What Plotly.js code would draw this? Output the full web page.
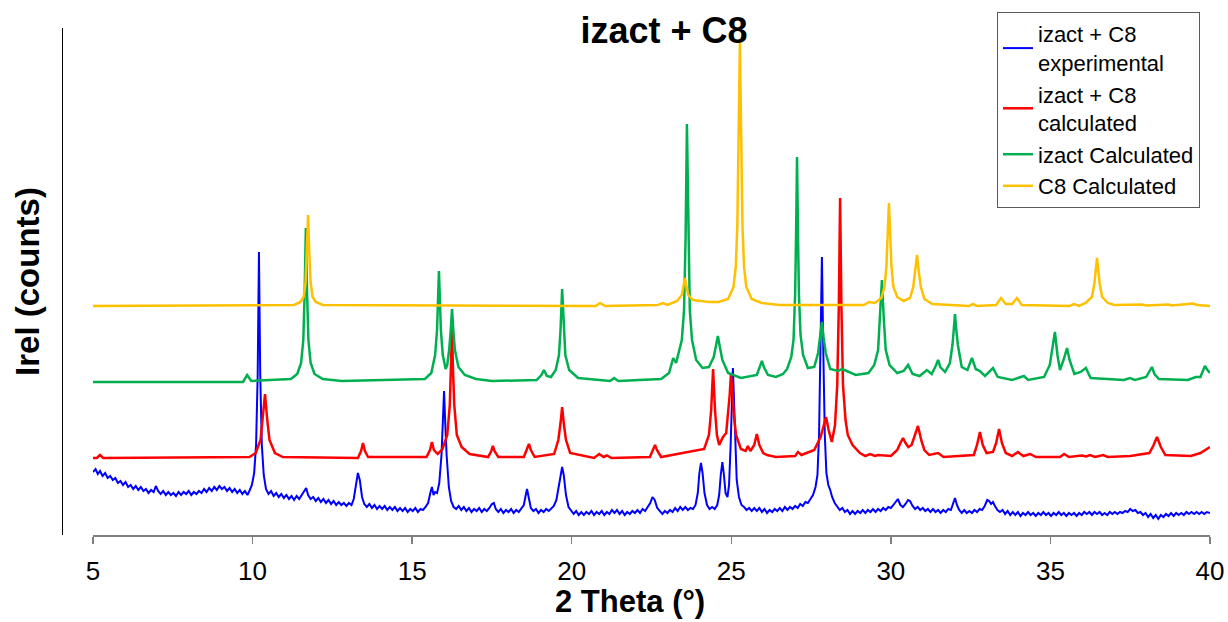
<!DOCTYPE html>
<html>
<head>
<meta charset="utf-8">
<script src="https://cdn.plot.ly/plotly-3.0.1.min.js"></script>
<style>html,body{margin:0;padding:0;background:#fff;}#chart{width:1228px;height:622px;}</style>
</head>
<body>
<div id="chart"></div>
<script>
// ---- data: [2 Theta (deg), intensity (offset counts)] ----
const seriesNames = ["izact + C8<br>experimental", "izact + C8<br>calculated", "izact Calculated", "C8 Calculated"];
const seriesColors = ["#0000FF", "#FF0000", "#00B050", "#FFC000"];

const expPoints = [[5.0,63],[5.08,66],[5.15,61],[5.22,64],[5.3,59],[5.38,62],[5.46,57],[5.54,59],[5.62,55],[5.7,57],[5.78,52],[5.86,54],[5.94,50],[6.02,53],[6.1,48],[6.18,50],[6.26,46],[6.34,49],[6.42,45],[6.5,48],[6.58,44],[6.66,46],[6.74,42],[6.82,45],[6.9,43],[6.97,49],[7.04,44],[7.12,41],[7.2,44],[7.28,40],[7.36,43],[7.44,40],[7.52,42],[7.6,39],[7.68,43],[7.76,40],[7.84,43],[7.92,41],[8.0,44],[8.08,40],[8.16,43],[8.24,41],[8.32,44],[8.4,42],[8.48,46],[8.56,43],[8.64,47],[8.72,44],[8.8,48],[8.88,45],[8.96,49],[9.04,46],[9.12,48],[9.2,44],[9.28,47],[9.36,43],[9.44,46],[9.52,42],[9.6,45],[9.68,41],[9.76,44],[9.84,40],[9.9,44],[9.98,50],[10.05,62],[10.11,90],[10.16,160],[10.2,283],[10.24,160],[10.29,90],[10.35,60],[10.42,46],[10.5,41],[10.58,44],[10.66,39],[10.74,42],[10.82,38],[10.9,41],[10.98,37],[11.06,40],[11.14,36],[11.22,39],[11.3,35],[11.38,39],[11.46,36],[11.54,40],[11.62,44],[11.68,47],[11.74,40],[11.82,36],[11.9,38],[11.98,34],[12.06,37],[12.14,33],[12.22,36],[12.3,32],[12.38,35],[12.46,31],[12.54,34],[12.62,30],[12.7,33],[12.78,30],[12.86,32],[12.94,29],[13.02,32],[13.1,30],[13.17,36],[13.24,50],[13.3,62],[13.36,55],[13.43,38],[13.5,31],[13.58,28],[13.66,31],[13.74,27],[13.82,30],[13.9,26],[13.98,29],[14.06,26],[14.14,29],[14.22,25],[14.3,28],[14.38,25],[14.46,28],[14.54,24],[14.62,27],[14.7,24],[14.78,27],[14.86,23],[14.94,26],[15.02,24],[15.1,27],[15.18,23],[15.26,26],[15.34,25],[15.42,28],[15.5,32],[15.57,42],[15.62,48],[15.67,40],[15.72,43],[15.78,42],[15.85,52],[15.92,80],[15.96,110],[16.0,144],[16.04,110],[16.08,80],[16.15,48],[16.22,34],[16.3,28],[16.38,26],[16.46,29],[16.54,25],[16.62,28],[16.7,24],[16.78,27],[16.86,23],[16.94,26],[17.02,24],[17.1,27],[17.18,23],[17.26,26],[17.34,24],[17.42,27],[17.5,31],[17.56,32],[17.62,26],[17.7,23],[17.78,26],[17.86,22],[17.94,25],[18.02,23],[18.1,26],[18.18,22],[18.26,25],[18.34,23],[18.42,27],[18.5,30],[18.56,40],[18.6,46],[18.65,38],[18.72,27],[18.8,24],[18.88,26],[18.96,22],[19.04,25],[19.12,23],[19.2,26],[19.28,24],[19.36,27],[19.44,29],[19.52,35],[19.6,50],[19.66,62],[19.7,68],[19.75,60],[19.82,40],[19.9,28],[19.98,24],[20.06,21],[20.14,24],[20.22,20],[20.3,23],[20.38,20],[20.46,23],[20.54,21],[20.62,24],[20.7,20],[20.78,23],[20.86,21],[20.94,24],[21.02,20],[21.1,23],[21.18,21],[21.26,25],[21.34,22],[21.42,25],[21.5,21],[21.58,24],[21.66,20],[21.74,23],[21.82,21],[21.9,24],[21.98,22],[22.06,25],[22.14,22],[22.22,26],[22.3,24],[22.38,28],[22.46,32],[22.53,38],[22.6,35],[22.68,27],[22.76,24],[22.84,21],[22.92,24],[23.0,22],[23.08,25],[23.16,23],[23.24,27],[23.32,24],[23.4,28],[23.48,25],[23.56,28],[23.64,25],[23.72,27],[23.8,26],[23.88,30],[23.95,42],[24.0,62],[24.05,72],[24.1,62],[24.16,42],[24.24,30],[24.32,26],[24.4,28],[24.48,26],[24.56,30],[24.62,40],[24.67,60],[24.72,73],[24.77,60],[24.82,42],[24.88,38],[24.93,50],[24.98,90],[25.02,140],[25.05,167],[25.08,140],[25.12,90],[25.17,55],[25.24,38],[25.32,30],[25.4,28],[25.48,25],[25.56,27],[25.64,24],[25.72,27],[25.8,24],[25.88,27],[25.96,23],[26.04,26],[26.12,22],[26.2,25],[26.28,23],[26.36,26],[26.44,24],[26.52,27],[26.6,24],[26.68,28],[26.76,25],[26.84,28],[26.92,26],[27.0,29],[27.08,27],[27.16,31],[27.24,29],[27.32,33],[27.4,32],[27.48,36],[27.56,40],[27.64,48],[27.7,60],[27.75,100],[27.8,190],[27.84,278],[27.88,190],[27.93,100],[27.98,62],[28.04,50],[28.1,45],[28.16,38],[28.24,32],[28.32,28],[28.4,25],[28.48,27],[28.56,23],[28.64,25],[28.72,21],[28.8,24],[28.88,21],[28.96,24],[29.04,22],[29.12,25],[29.2,22],[29.28,25],[29.36,23],[29.44,26],[29.52,23],[29.6,26],[29.68,24],[29.76,27],[29.84,25],[29.92,28],[30.0,27],[30.08,30],[30.16,33],[30.22,36],[30.3,30],[30.38,28],[30.46,31],[30.54,35],[30.6,34],[30.68,29],[30.76,26],[30.84,28],[30.92,25],[31.0,27],[31.08,24],[31.16,26],[31.24,23],[31.32,26],[31.4,23],[31.48,25],[31.56,22],[31.64,25],[31.72,23],[31.8,26],[31.88,25],[31.95,31],[32.01,37],[32.07,30],[32.14,25],[32.22,22],[32.3,25],[32.38,22],[32.46,24],[32.54,22],[32.62,25],[32.7,23],[32.78,26],[32.86,25],[32.94,29],[33.02,35],[33.08,34],[33.14,31],[33.2,33],[33.26,29],[33.34,25],[33.42,23],[33.5,25],[33.58,21],[33.66,24],[33.74,20],[33.82,23],[33.9,20],[33.98,23],[34.06,19],[34.14,22],[34.22,20],[34.3,23],[34.38,20],[34.46,22],[34.54,19],[34.62,22],[34.7,20],[34.78,23],[34.86,20],[34.94,22],[35.02,19],[35.1,22],[35.18,20],[35.26,23],[35.34,20],[35.42,22],[35.5,19],[35.58,22],[35.66,20],[35.74,22],[35.82,19],[35.9,22],[35.98,20],[36.06,23],[36.14,21],[36.22,23],[36.3,20],[36.38,23],[36.46,21],[36.54,23],[36.62,20],[36.7,22],[36.78,20],[36.86,23],[36.94,21],[37.02,23],[37.1,21],[37.18,23],[37.26,22],[37.34,24],[37.42,23],[37.5,26],[37.58,24],[37.66,25],[37.74,22],[37.82,23],[37.9,20],[37.98,22],[38.06,18],[38.14,21],[38.22,17],[38.3,20],[38.38,16],[38.46,20],[38.54,18],[38.62,21],[38.7,19],[38.78,22],[38.86,19],[38.94,22],[39.02,20],[39.1,22],[39.18,20],[39.26,23],[39.34,21],[39.42,23],[39.5,21],[39.58,23],[39.66,21],[39.74,23],[39.82,21],[39.9,23],[40.0,22]];

const mixCalcPoints = [[5.0,77],[5.12,77],[5.22,80],[5.32,77],[9.9,78],[10.1,82],[10.25,95],[10.32,115],[10.39,141],[10.46,115],[10.53,95],[10.7,82],[10.95,78],[13.3,77],[13.4,84],[13.46,92],[13.52,84],[13.62,78],[15.45,78],[15.56,85],[15.62,93],[15.68,85],[15.8,81],[15.95,86],[16.1,100],[16.18,130],[16.22,165],[16.25,207],[16.28,165],[16.32,130],[16.4,100],[16.55,88],[16.8,81],[17.38,78],[17.48,84],[17.53,89],[17.58,84],[17.7,78],[18.5,78],[18.6,85],[18.66,91],[18.72,85],[18.84,78],[19.45,81],[19.58,95],[19.65,112],[19.7,128],[19.75,112],[19.82,95],[19.95,82],[20.7,77],[20.86,81],[21.0,78],[21.1,79.5],[21.25,77],[22.45,78],[22.55,85],[22.61,90],[22.67,85],[22.8,78],[24.15,86],[24.3,100],[24.37,125],[24.43,166],[24.49,125],[24.55,100],[24.62,90],[24.74,98],[24.84,102],[24.9,120],[24.95,140],[24.99,162],[25.03,140],[25.08,120],[25.15,100],[25.3,86],[25.45,84],[25.52,89],[25.6,84],[25.72,90],[25.8,101],[25.88,90],[26.0,82],[26.12,80],[26.4,78],[27.0,79],[27.09,83],[27.2,80],[27.6,85],[27.8,98],[27.9,110],[27.97,118],[28.05,105],[28.15,93],[28.25,110],[28.32,150],[28.37,230],[28.41,337],[28.45,230],[28.5,150],[28.58,115],[28.65,100],[28.8,90],[29.03,82],[29.2,79],[29.35,81],[29.5,79],[29.6,80],[30.0,79],[30.2,85],[30.3,92],[30.38,97],[30.46,92],[30.55,88],[30.65,90],[30.75,100],[30.85,109],[30.95,95],[31.05,85],[31.2,80],[31.48,82],[31.65,78],[32.6,80],[32.7,90],[32.79,103],[32.88,90],[33.0,82],[33.2,83],[33.3,92],[33.39,106],[33.48,92],[33.6,82],[33.8,79],[33.98,83],[34.15,79],[34.36,81],[34.55,78],[35.3,78],[35.43,81],[35.58,78],[35.99,79.5],[36.12,78.5],[36.24,80],[36.4,78],[36.65,80],[36.8,78],[37.5,79],[38.1,82],[38.22,89],[38.34,98],[38.46,88],[38.6,80],[39.4,79],[39.7,82],[39.9,86],[40.0,88]];

const izactPoints = [[5.0,153],[9.7,153],[9.83,160],[9.96,154],[11.2,156],[11.4,161],[11.52,172],[11.59,195],[11.63,240],[11.67,307],[11.71,240],[11.75,195],[11.82,172],[11.94,161],[12.2,156],[12.8,154],[15.4,156],[15.6,162],[15.72,180],[15.78,205],[15.84,264],[15.9,205],[15.96,180],[16.05,166],[16.1,170],[16.16,185],[16.21,205],[16.25,226],[16.29,205],[16.34,185],[16.45,168],[16.65,160],[17.0,156],[17.5,154],[18.9,155],[19.05,160],[19.13,165],[19.22,159],[19.35,158],[19.5,165],[19.6,180],[19.65,205],[19.7,246],[19.75,205],[19.8,180],[19.92,165],[20.2,157],[21.2,154],[21.33,157],[21.46,154],[22.8,156],[23.05,162],[23.18,177],[23.27,172],[23.36,183],[23.45,195],[23.52,225],[23.57,300],[23.61,411],[23.65,300],[23.7,225],[23.77,195],[23.9,175],[24.1,167],[24.3,168],[24.45,178],[24.53,190],[24.58,199],[24.63,190],[24.72,175],[24.9,162],[25.3,157],[25.8,160],[25.9,168],[25.96,174],[26.02,168],[26.15,160],[26.4,158],[26.62,161],[26.75,166],[26.88,178],[26.95,195],[27.0,240],[27.03,300],[27.06,378],[27.09,300],[27.12,240],[27.17,200],[27.25,180],[27.4,167],[27.6,168],[27.72,182],[27.79,198],[27.84,213],[27.89,198],[27.96,182],[28.1,166],[28.35,164],[28.47,166],[28.6,164],[28.9,160],[29.3,162],[29.48,170],[29.6,185],[29.66,215],[29.72,255],[29.78,215],[29.84,185],[29.96,170],[30.2,162],[30.4,164],[30.54,170],[30.68,161],[30.9,159],[31.13,165],[31.28,161],[31.42,170],[31.48,175],[31.55,168],[31.7,163],[31.85,172],[31.93,190],[31.97,205],[32.01,221],[32.05,205],[32.1,190],[32.22,168],[32.4,165],[32.54,177],[32.66,166],[32.79,164],[32.95,159],[33.2,167],[33.35,158],[33.8,155],[34.17,159],[34.3,155],[34.8,158],[34.98,170],[35.06,188],[35.14,203],[35.22,180],[35.3,165],[35.42,176],[35.52,187],[35.6,175],[35.75,161],[35.95,163],[36.11,167],[36.26,157],[36.65,156],[37.3,155],[37.49,157],[37.65,155],[38.0,158],[38.1,163],[38.18,168],[38.26,161],[38.4,156],[39.3,155],[39.56,158],[39.7,158],[39.78,164],[39.84,169],[39.92,165],[40.0,162]];

const c8Points = [[5.0,229],[11.3,230],[11.5,233],[11.6,238],[11.66,252],[11.7,280],[11.74,320],[11.78,280],[11.82,252],[11.88,238],[11.98,233],[12.2,230],[20.75,229],[20.89,232],[21.05,229],[22.7,230],[22.86,232],[23.0,230],[23.3,234],[23.45,240],[23.5,248],[23.55,257],[23.6,248],[23.65,240],[23.8,235],[24.3,233],[24.6,233],[24.9,236],[25.07,248],[25.14,268],[25.19,310],[25.23,400],[25.27,493],[25.31,400],[25.35,310],[25.4,268],[25.47,248],[25.64,236],[25.95,232],[26.5,230],[29.15,230],[29.32,233],[29.5,232],[29.7,237],[29.8,248],[29.86,268],[29.9,300],[29.94,332],[29.98,300],[30.02,268],[30.08,248],[30.2,238],[30.4,234],[30.6,237],[30.7,248],[30.76,262],[30.82,280],[30.88,262],[30.94,248],[31.05,236],[31.3,231],[32.45,229],[32.57,231],[32.7,229],[33.3,230],[33.45,237],[33.6,231],[33.8,231],[33.95,237],[34.1,230],[35.6,229],[35.74,231],[35.9,229],[36.1,232],[36.3,238],[36.38,252],[36.46,277],[36.54,252],[36.62,238],[36.8,232],[37.0,230],[37.87,230.5],[38.0,229.5],[38.69,230.5],[38.8,229.5],[39.47,231.5],[39.6,230],[40.0,229]];

const xTicks = [5, 10, 15, 20, 25, 30, 35, 40];

// ---- chart ----
const FONT = "Arial, 'Liberation Sans', sans-serif";
const allPoints = [expPoints, mixCalcPoints, izactPoints, c8Points];
const widths = [2, 2.5, 2.5, 2.5];
const traces = allPoints.map((pts, i) => ({
  type: "scatter", mode: "lines",
  x: pts.map(p => p[0]), y: pts.map(p => p[1]),
  name: seriesNames[i],
  line: {color: seriesColors[i], width: widths[i]}, hoverinfo: "skip"
}));

const plotL = 62, plotR = 1210, plotT = 28, plotB = 535;
const plotW = plotR - plotL, plotH = plotB - plotT;
const layout = {
  width: 1228, height: 622,
  margin: {l: plotL, r: 1228 - plotR, t: plotT, b: 622 - plotB, pad: 0},
  paper_bgcolor: "#ffffff", plot_bgcolor: "#ffffff",
  font: {family: FONT, color: "#000000"},
  showlegend: true,
  title: {text: "izact + C8", font: {family: FONT, size: 36, weight: "bold", color: "#000"},
          x: 664 / 1228, xref: "container", xanchor: "center",
          y: 1 - 30 / 622, yref: "container", yanchor: "middle"},
  xaxis: {
    domain: [(93 - plotL) / plotW, 1], range: [5, 40],
    tickmode: "array", tickvals: xTicks, ticktext: xTicks.map(String),
    ticks: "outside", ticklen: 7, tickwidth: 1.5, tickcolor: "#808080",
    showline: true, linecolor: "#808080", linewidth: 1.5,
    showgrid: false, zeroline: false,
    tickfont: {family: FONT, size: 26, color: "#000"},
    ticklabelstandoff: 5
  },
  yaxis: {
    range: [0, 507], anchor: "free", position: 0,
    showticklabels: false, ticks: "", showgrid: false, zeroline: false,
    showline: true, linecolor: "#000000", linewidth: 1,
    title: {text: "Irel (counts)", font: {family: FONT, size: 33, weight: "bold", color: "#000"}, standoff: 11}
  },
  annotations: [{
    text: "2 Theta (°)", xref: "paper", yref: "paper",
    x: (630 - plotL) / plotW, y: (plotB - 621) / plotH, xanchor: "center", yanchor: "bottom",
    showarrow: false, font: {family: FONT, size: 31, weight: "bold", color: "#000"}
  }],
  legend: {
    x: (997 - plotL) / plotW, y: (plotB - 12) / plotH, xanchor: "left", yanchor: "top",
    bgcolor: "#ffffff", bordercolor: "#595959", borderwidth: 1,
    font: {family: FONT, size: 22, color: "#000"}, traceorder: "normal", tracegroupgap: 0
  },
  hovermode: false
};

Plotly.newPlot("chart", traces, layout, {displayModeBar: false, staticPlot: true});
</script>
</body>
</html>
